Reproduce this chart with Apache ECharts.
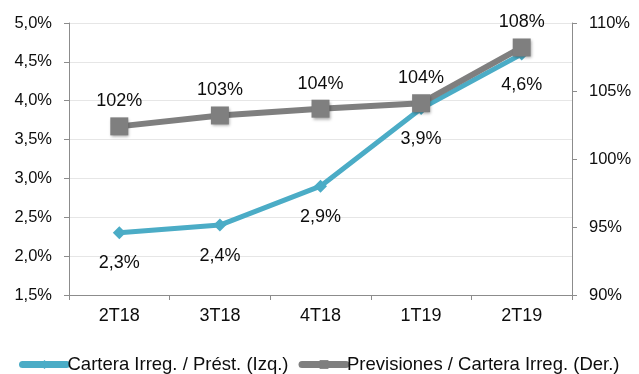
<!DOCTYPE html>
<html>
<head>
<meta charset="utf-8">
<script src="https://cdn.jsdelivr.net/npm/echarts@6/dist/echarts.min.js"></script>
<style>
  html, body { margin: 0; padding: 0; background: #ffffff; }
  #chart { width: 639px; height: 374px; }
</style>
</head>
<body>
<div id="chart"></div>
<script>
// Quarters on the category axis
const categories = ['2T18', '3T18', '4T18', '1T19', '2T19'];
// Non-performing loans / loans, % (left axis)
const carteraIrreg = [2.3, 2.4, 2.9, 3.9, 4.6];
// Provisions / non-performing loans, % (right axis)
const previsiones = [102.4, 103.2, 103.7, 104.1, 108.2];
// Axis ranges
const leftAxis = { min: 1.5, max: 5.0, step: 0.5 };
const rightAxis = { min: 90, max: 110, step: 5 };
const seriesNames = ['Cartera Irreg. / Prést. (Izq.)', 'Previsiones / Cartera Irreg. (Der.)'];

const FONT = '"Liberation Sans", Arial, sans-serif';
const INK = '#0d0d0d';
const fmtDec = v => v.toFixed(1).replace('.', ',') + '%';
const fmtInt = v => Math.round(v) + '%';

const chart = echarts.init(document.getElementById('chart'), null, { renderer: 'canvas' });
chart.setOption({
  animation: false,
  textStyle: { fontFamily: FONT },
  grid: { left: 69, right: 67, top: 23, bottom: 79 },
  legend: {
    left: 14, top: 350,
    itemWidth: 44, itemHeight: 11, itemGap: 10,
    lineStyle: { width: 7, cap: 'round' },
    textStyle: { fontFamily: FONT, fontSize: 18.5, color: INK, padding: [0, 0, 0, -4] },
    data: seriesNames
  },
  xAxis: {
    type: 'category',
    data: categories,
    boundaryGap: true,
    axisLine: { lineStyle: { color: '#8c8c8c', width: 1 } },
    axisTick: { show: true, length: 5, lineStyle: { color: '#8c8c8c' } },
    axisLabel: { fontFamily: FONT, fontSize: 18, color: INK, margin: 12 }
  },
  yAxis: [
    {
      type: 'value',
      min: leftAxis.min, max: leftAxis.max, interval: leftAxis.step,
      axisLine: { show: true, lineStyle: { color: '#8c8c8c' } },
      axisTick: { show: true, length: 5, lineStyle: { color: '#8c8c8c' } },
      splitLine: { show: true, lineStyle: { color: '#e6e6e6', width: 1 } },
      axisLabel: { fontFamily: FONT, fontSize: 16.5, color: INK, margin: 17, formatter: fmtDec }
    },
    {
      type: 'value',
      position: 'right',
      min: rightAxis.min, max: rightAxis.max, interval: rightAxis.step,
      axisLine: { show: true, lineStyle: { color: '#8c8c8c' } },
      axisTick: { show: true, length: 5, lineStyle: { color: '#8c8c8c' } },
      splitLine: { show: false },
      axisLabel: { fontFamily: FONT, fontSize: 16.5, color: INK, margin: 17, formatter: fmtInt }
    }
  ],
  series: [
    {
      name: seriesNames[0],
      type: 'line',
      yAxisIndex: 0,
      data: carteraIrreg,
      symbol: 'diamond',
      symbolSize: 13,
      lineStyle: { color: '#4bacc6', width: 5 },
      itemStyle: { color: '#4bacc6' },
      label: {
        show: true, position: 'bottom', distance: 15,
        fontFamily: FONT, fontSize: 18, color: INK,
        formatter: p => fmtDec(p.value)
      },
      z: 2
    },
    {
      name: seriesNames[1],
      type: 'line',
      yAxisIndex: 1,
      data: previsiones,
      symbol: 'rect',
      symbolSize: 18,
      lineStyle: { color: '#7f7f7f', width: 6 },
      itemStyle: {
        color: '#7f7f7f',
        shadowColor: 'rgba(0,0,0,0.35)', shadowBlur: 3, shadowOffsetX: 1, shadowOffsetY: 2
      },
      label: {
        show: true, position: 'top', distance: 7,
        fontFamily: FONT, fontSize: 18, color: INK,
        formatter: p => fmtInt(p.value)
      },
      z: 3
    }
  ]
});
</script>
</body>
</html>
